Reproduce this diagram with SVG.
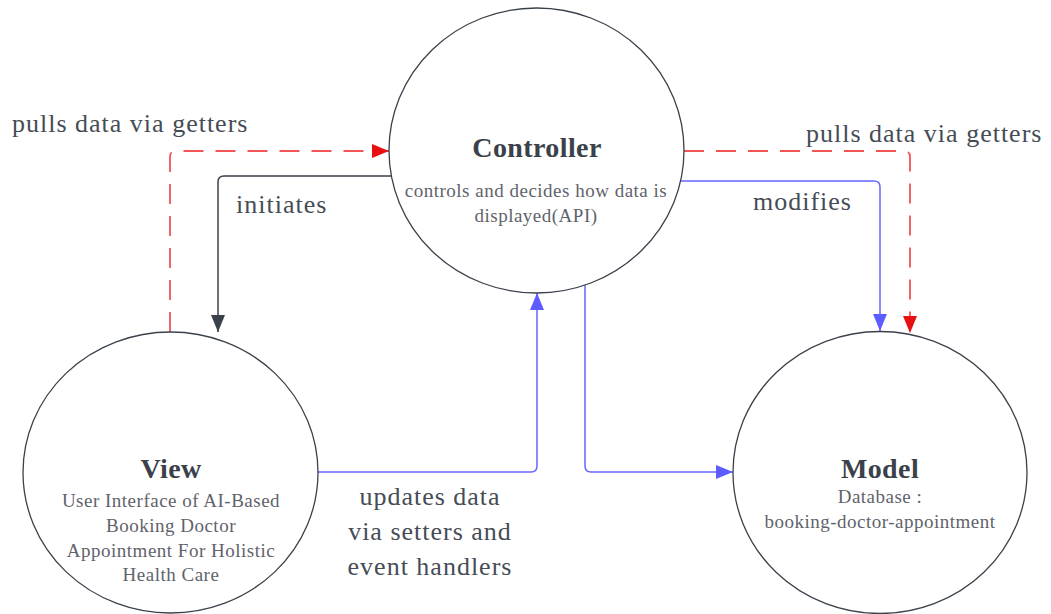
<svg xmlns="http://www.w3.org/2000/svg" width="1051" height="614" viewBox="0 0 1051 614">
<style>
.node{fill:#ffffff;stroke:#3a414a;stroke-width:1.3}
.title{font-family:"Liberation Serif",serif;font-size:28px;font-weight:bold;fill:#3a414a;text-anchor:middle;letter-spacing:0.4px}
.sub{font-family:"Liberation Serif",serif;font-size:19px;fill:#5f636b;text-anchor:middle;letter-spacing:0.5px}
.lbl{font-family:"Liberation Serif",serif;font-size:26px;fill:#464c55;letter-spacing:1px}
.red{fill:none;stroke:#f25555;stroke-width:1.8;stroke-dasharray:20 12}
.blue{fill:none;stroke:#6666ff;stroke-width:1.5}
.dark{fill:none;stroke:#3a414a;stroke-width:1.5}
</style>
<defs>
<marker id="aRed" markerUnits="userSpaceOnUse" markerWidth="18" markerHeight="14" refX="17" refY="7" orient="auto"><path d="M0,0 L17,7 L0,14 Z" fill="#e81010"/></marker>
<marker id="aBlue" markerUnits="userSpaceOnUse" markerWidth="18" markerHeight="14" refX="17" refY="7" orient="auto"><path d="M0,0 L17,7 L0,14 Z" fill="#5c5cff"/></marker>
<marker id="aDark" markerUnits="userSpaceOnUse" markerWidth="18" markerHeight="14" refX="17" refY="7" orient="auto"><path d="M0,0 L17,7 L0,14 Z" fill="#3a414a"/></marker>
</defs>
<g id="connectors">
<path class="red" d="M170,332 V157 Q170,151 176,151 H389" marker-end="url(#aRed)"/>
<path class="dark" d="M391,176 H224 Q218,176 218,182 V332" marker-end="url(#aDark)"/>
<path class="red" d="M684,151 H904 Q910,151 910,157 V333" marker-end="url(#aRed)"/>
<path class="blue" d="M681,181 H874 Q880,181 880,187 V331" marker-end="url(#aBlue)"/>
<path class="blue" d="M318,472 H531 Q537,472 537,466 V293" marker-end="url(#aBlue)"/>
<path class="blue" d="M585,284 V466 Q585,472 591,472 H733" marker-end="url(#aBlue)"/>
<text class="lbl" x="12" y="132">pulls data via getters</text>
<text class="lbl" x="236" y="213">initiates</text>
<text class="lbl" x="806" y="142">pulls data via getters</text>
<text class="lbl" x="753" y="210">modifies</text>
<text class="lbl" x="430" y="505" text-anchor="middle">updates data</text>
<text class="lbl" x="430" y="540" text-anchor="middle">via setters and</text>
<text class="lbl" x="430" y="575" text-anchor="middle">event handlers</text>
</g>
<g id="controller">
<ellipse class="node" cx="536.5" cy="150.5" rx="147.5" ry="142.5"/>
<text class="title" x="537" y="157">Controller</text>
<text class="sub" x="536" y="197">controls and decides how data is</text>
<text class="sub" x="536" y="222">displayed(API)</text>
</g>
<g id="view">
<ellipse class="node" cx="170.5" cy="472.5" rx="147.5" ry="140.5"/>
<text class="title" x="171" y="478">View</text>
<text class="sub" x="171" y="507">User Interface of AI-Based</text>
<text class="sub" x="171" y="532">Booking Doctor</text>
<text class="sub" x="171" y="557">Appointment For Holistic</text>
<text class="sub" x="171" y="581">Health Care</text>
</g>
<g id="model">
<ellipse class="node" cx="880" cy="472.5" rx="147" ry="141"/>
<text class="title" x="880" y="478">Model</text>
<text class="sub" x="880" y="503">Database :</text>
<text class="sub" x="880" y="528">booking-doctor-appointment</text>
</g>
</svg>
